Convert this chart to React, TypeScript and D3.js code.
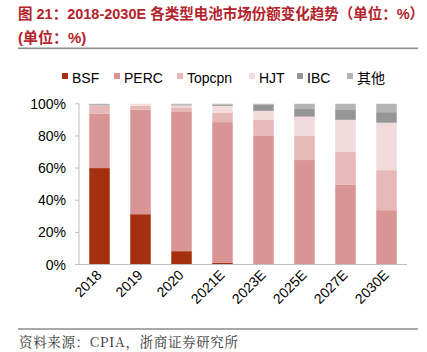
import React from "react";
import * as d3 from "d3";

const categories = ["2018", "2019", "2020", "2021E", "2023E", "2025E", "2027E", "2030E"];
const seriesNames = ["BSF", "PERC", "Topcpn", "HJT", "IBC", "其他"];
const BSF = [60, 31.3, 8.3, 1, 0, 0, 0, 0];
const PERC = [33.8, 65, 87, 87.6, 80, 65, 49.6, 33.8];
const Topcpn = [5.2, 2.5, 2.5, 5.8, 10.2, 15, 20.4, 24.9];
const HJT = [0, 1.2, 1.2, 4.35, 5.4, 12, 20, 29.5];
const IBC = [0, 0, 0.6, 0.8, 3.8, 4.8, 6.2, 6.6];
const Other = [1, 0, 0.4, 0.45, 0.6, 3.2, 3.8, 5.2];
const yTicks = [0, 20, 40, 60, 80, 100];
const colors = ["#A5300F", "#D99594", "#E6B8B7", "#F2DCDB", "#969696", "#B4B4B4"];

export default function App() {
  const W = 427, H = 352;
  const x = d3.scaleBand<string>().domain(categories).range([79, 407]).paddingInner(0.5).paddingOuter(0.25);
  const y = d3.scaleLinear().domain([0, 100]).range([264.5, 103.8]);
  const rows = categories.map((c, i) => ({
    cat: c, BSF: BSF[i], PERC: PERC[i], Topcpn: Topcpn[i], HJT: HJT[i], IBC: IBC[i], 其他: Other[i],
  }));
  const stack = d3.stack<any>().keys(seriesNames)(rows);
  const legendX = [62, 114, 177, 249, 297, 347];
  const font = "'Liberation Sans', Arial, sans-serif";
  return (
    <svg width={W} height={H} style={{ position: "absolute", left: 0, top: 0 }}>
      <rect width={W} height={H} fill="#fff" />
      <text x={18} y={19} fontFamily="'Liberation Sans', 'Noto Sans CJK SC', sans-serif" fontWeight="bold" fontSize={14.5} fill="#B3232B">
        图 21：2018-2030E 各类型电池市场份额变化趋势（单位：%）
      </text>
      <text x={18} y={43} fontFamily="'Liberation Sans', 'Noto Sans CJK SC', sans-serif" fontWeight="bold" fontSize={15} fill="#B3232B">
        (单位：%)
      </text>
      <rect x={18} y={47.5} width={400} height={1.6} fill="#8C8C8C" />
      {seriesNames.map((s, i) => (
        <g key={s}>
          <rect x={legendX[i]} y={73} width={6} height={6} fill={colors[i]} />
          <text x={legendX[i] + 10} y={83} fontFamily={font + ", 'Noto Sans CJK SC'"} fontSize={14} fill="#000">{s}</text>
        </g>
      ))}
      {stack.map((layer, si) => (
        <g key={si} fill={colors[si]}>
          {layer.map((d, i) => (
            <rect key={i} x={x(categories[i])} width={x.bandwidth()} y={y(d[1])} height={Math.max(0, y(d[0]) - y(d[1]))} />
          ))}
        </g>
      ))}
      <line x1={79} x2={79} y1={y(100)} y2={y(0)} stroke="#BFBFBF" strokeWidth={1} />
      <line x1={75} x2={407} y1={y(0)} y2={y(0)} stroke="#BFBFBF" strokeWidth={1.2} />
      {yTicks.map((t) => (
        <g key={t}>
          <line x1={75} x2={79} y1={y(t)} y2={y(t)} stroke="#BFBFBF" />
          <text x={66} y={y(t) + 5} textAnchor="end" fontFamily={font} fontSize={14} fill="#000">{t}%</text>
        </g>
      ))}
      {categories.map((c) => {
        const cx = (x(c) as number) + x.bandwidth() / 2 + 3;
        return (
          <text key={c} transform={`translate(${cx},${276}) rotate(-45)`} textAnchor="end" fontFamily={font} fontSize={14} fill="#000">{c}</text>
        );
      })}
      <rect x={18} y={328.5} width={400} height={1} fill="#555" />
      <text x={19} y={347} fontFamily="'Noto Serif CJK SC', 'Noto Sans CJK SC', serif" fontSize={13.5} fill="#333" textLength={219} lengthAdjust="spacing">资料来源：CPIA，浙商证券研究所</text>
    </svg>
  );
}
